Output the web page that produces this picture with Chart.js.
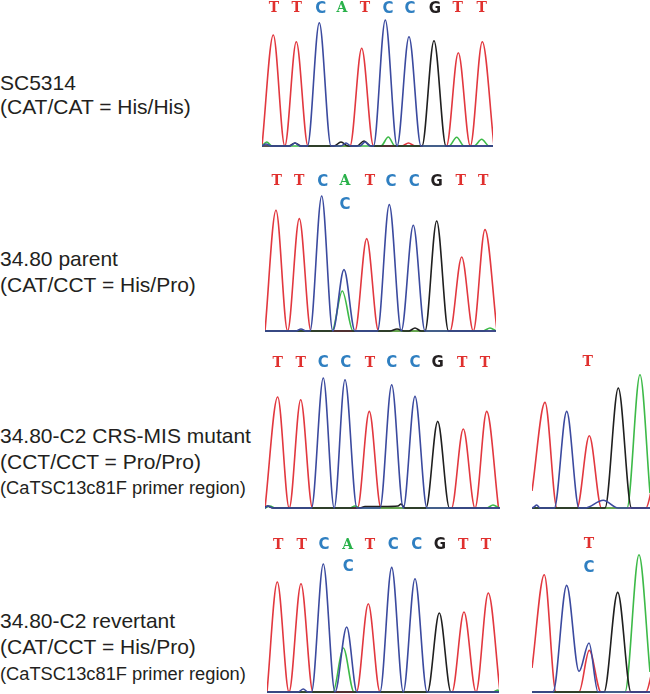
<!DOCTYPE html>
<html>
<head>
<meta charset="utf-8">
<script src="https://cdn.jsdelivr.net/npm/chart.js@4.4.1/dist/chart.umd.min.js"></script>
<style>
  html, body { margin: 0; padding: 0; background: #ffffff; }
  #wrap { position: relative; width: 650px; height: 694px; overflow: hidden; background: #fff; }
  canvas { position: absolute; }
  .lbl { position: absolute; left: 0; white-space: nowrap; color: #231f20;
         font-family: "Liberation Sans", Arial, sans-serif; line-height: 1; }
  .big { font-size: 21px; }
  .small { font-size: 18.3px; }
</style>
</head>
<body>
<div id="wrap">
  <div class="lbl big"   style="top:71.5px">SC5314</div>
  <div class="lbl big"   style="top:96px">(CAT/CAT = His/His)</div>
  <div class="lbl big"   style="top:248px">34.80 parent</div>
  <div class="lbl big"   style="top:273.5px">(CAT/CCT = His/Pro)</div>
  <div class="lbl big"   style="top:425px">34.80-C2 CRS-MIS mutant</div>
  <div class="lbl big"   style="top:450.5px">(CCT/CCT = Pro/Pro)</div>
  <div class="lbl small" style="top:478.5px">(CaTSC13c81F primer region)</div>
  <div class="lbl big"   style="top:609.5px">34.80-C2 revertant</div>
  <div class="lbl big"   style="top:635.5px">(CAT/CCT = His/Pro)</div>
  <div class="lbl small" style="top:664.5px">(CaTSC13c81F primer region)</div>

  <canvas id="p1"></canvas>
  <canvas id="p2"></canvas>
  <canvas id="p3"></canvas>
  <canvas id="p3r"></canvas>
  <canvas id="p4"></canvas>
  <canvas id="p4r"></canvas>
</div>
<script>
// ---------------- DATA (trace key points: [scan position, signal]) ----------------
// Panel 1: SC5314
const p1Red   = [[0,0],[11.3,111],[22.8,0],[34.3,104.3],[46,0],[88,0],[99.7,97.7],[111.5,0],[140,0],[146.5,3],[153,0],[184.5,0],[196.3,93.3],[208.3,0],[220.3,104.3],[232,0]];
const p1Blue  = [[0,0],[4,2],[9,0],[28,0],[33,3],[38,0],[45.5,0],[57.3,123.3],[69,0],[79,0],[84,3],[89,0],[98,0],[103,4],[108,0],[111.5,0],[123.3,126],[135.1,0],[147,109.3],[159,0],[231,0]];
const p1Black = [[0,0],[27,0],[33,3],[39,0],[72,0],[79,4],[86,0],[95,0],[102,5],[109,0],[160,0],[172,105.3],[184,0],[231,0]];
const p1Green = [[0,0],[4.7,4],[10,0],[119,0],[126.3,9],[133,0],[187,0],[194.7,8.7],[202,0],[212,0],[219.7,6.7],[227,0],[231,0]];
const p1Calls  = ['T','T','C','A','T','C','C','G','T','T'];
const p1CallX  = [12,34.7,58.7,80,103,126,148,173,195.7,219.7];

// Panel 2: 34.80 parent
const p2Red   = [[0,0],[11,120.7],[22.6,0],[34.3,112.4],[46,0],[90,0],[101.7,92.4],[113.5,0],[185,0],[196.7,74],[208.3,0],[220,101.4],[232,0]];
const p2Blue  = [[0,0],[31,0],[36,2],[41,0],[45,0],[56.7,135],[67.8,0],[79,61.4],[90,0],[112.5,0],[124.3,126.4],[136.3,0],[148.3,105.7],[160,0],[231,0]];
const p2Green = [[0,0],[67,0],[77.3,40],[88,0],[218,0],[225,3],[231,0]];
const p2Black = [[0,0],[125,0],[132,2],[139,0],[144,0],[150,3],[156,0],[160,0],[171.7,110],[183.5,0],[231,0]];
const p2Calls  = ['T','T','C','A','T','C','C','G','T','T'];
const p2CallX  = [11.7,34.3,57.7,80,105,126,149.3,171.7,195.7,218.3];
const p2Calls2 = ['C'];
const p2Call2X = [80];

// Panel 3: 34.80-C2 CRS-MIS mutant
const p3Red   = [[0,0],[12.7,111],[24.2,0],[35.7,108.3],[47.5,0],[92.5,0],[104.3,96.6],[116,0],[186.5,0],[198.3,79],[210,0],[221.7,96.6],[233.5,0]];
const p3Blue  = [[0,0],[3,2],[8,0],[46.5,0],[58.3,130],[69.2,0],[80,128.3],[92,0],[115,0],[126.7,123.3],[138.3,0],[150,111.6],[162,0],[235,0]];
const p3Black = [[0,0],[2,2],[8,0],[95,0],[100,1.5],[118,1.5],[133,2],[136,4],[140,0],[161,0],[172.7,86.6],[184.5,0],[235,0]];
const p3Green = [[0,0],[5,2],[10,0],[85,0],[90,2],[95,0],[222,0],[228,3],[234,0]];
const p3Calls  = ['T','T','C','C','T','C','C','G','T','T'];
const p3CallX  = [12.7,35.7,58.3,80.7,105,126.7,150,172.7,197.3,220];

// Panel 3 (primer region)
const p3rRed   = [[0,17],[13,105.6],[25,0],[45,0],[57.3,72.3],[69.5,0],[114,0],[120,20]];
const p3rBlue  = [[0,0],[2,1],[4.7,3],[8,0],[22.3,0],[34.7,96.6],[47,0],[53,0],[71.3,7.7],[86,0],[118,0]];
const p3rBlack = [[0,0],[73,0],[86.3,120],[99.5,0],[118,0]];
const p3rGreen = [[0,0],[95,0],[108,133.3],[118,15]];
const p3rCalls = ['T'];
const p3rCallX = [55.7];

// Panel 4: 34.80-C2 revertant
const p4Red   = [[0,0],[10.3,110],[22,0],[34,108.3],[46,0],[89.5,0],[101.3,88.3],[113,0],[185,0],[197,80],[209,0],[221.3,99],[233,0]];
const p4Blue  = [[0,0],[31,0],[36.3,3],[41,0],[44.5,0],[56.3,128],[68,0],[79.7,65],[90,0],[113,0],[124.7,124.6],[136.3,0],[148,113.3],[160,0],[232,0]];
const p4Green = [[0,0],[66,0],[76.3,44],[87,0],[226,0],[231,2],[232,0]];
const p4Black = [[0,0],[160.5,0],[172.3,79],[184,0],[232,0]];
const p4Calls  = ['T','T','C','A','T','C','C','G','T','T'];
const p4CallX  = [11.3,34.7,57,80.7,103,126.3,149.7,173,196.3,219];
const p4Calls2 = ['C'];
const p4Call2X = [81.3];

// Panel 4 (primer region)
const p4rRed   = [[0,24],[12.3,117.3],[24,0],[47,0],[57.3,41.6],[69,0],[114,0],[120,20]];
const p4rBlue  = [[0,0],[21,0],[34.7,106.6],[47,20.6],[57,49],[66,0],[118,0]];
const p4rBlack = [[0,0],[72,0],[85.7,99.6],[99,0],[118,0]];
const p4rGreen = [[0,0],[93,0],[107,137.3],[118,20]];
const p4rCalls  = ['T'];
const p4rCallX  = [57];
const p4rCalls2 = ['C'];
const p4rCall2X = [57];

// ---------------- STYLE ----------------
const TRACE = { red: '#e2383f', blue: '#3b4a9f', green: '#3dba48', black: '#1f1f1f' };
const CALL  = { T: '#e0302e', C: '#2f7fc1', A: '#29b14a', G: '#231f20' };

const baseCalls = {
  id: 'baseCalls',
  afterDatasetsDraw(chart, args, opts) {
    const ctx = chart.ctx, xs = chart.scales.x;
    ctx.save();
    ctx.textAlign = 'center';
    ctx.textBaseline = 'middle';
    (opts.rows || []).forEach(row => {
      row.letters.forEach((ch, i) => {
        ctx.font = (ch === 'T' || ch === 'A')
          ? 'bold 14px "DejaVu Serif", serif'
          : 'bold 15px "DejaVu Sans", sans-serif';
        ctx.fillStyle = CALL[ch];
        ctx.fillText(ch, xs.getPixelForValue(row.x[i]), row.y);
      });
    });
    ctx.restore();
  }
};

function toPts(arr) { return arr.map(p => ({ x: p[0], y: p[1] })); }

function makePanel(id, box, traces, rows) {
  const cv = document.getElementById(id);
  cv.width = box.w; cv.height = box.h;
  cv.style.left = box.left + 'px'; cv.style.top = box.top + 'px';
  cv.style.width = box.w + 'px'; cv.style.height = box.h + 'px';
  const padTop = box.padTop, padBottom = box.padBottom;
  const yMax = box.h - padTop - padBottom;
  const ds = [
    { data: toPts(traces.blue),  borderColor: TRACE.blue },
    { data: toPts(traces.black), borderColor: TRACE.black },
    { data: toPts(traces.green), borderColor: TRACE.green },
    { data: toPts(traces.red),   borderColor: TRACE.red }
  ].map(d => Object.assign(d, {
    borderWidth: 1.6, pointRadius: 0, fill: false,
    cubicInterpolationMode: 'monotone', clip: { left: 0, right: 0, top: 20, bottom: 2 }
  }));
  return new Chart(cv, {
    type: 'line',
    data: { datasets: ds },
    options: {
      responsive: false, animation: false, devicePixelRatio: 1,
      layout: { padding: { top: padTop, bottom: padBottom, left: 0, right: 0 } },
      plugins: { legend: { display: false }, tooltip: { enabled: false }, baseCalls: { rows } },
      scales: {
        x: { type: 'linear', min: 0, max: box.w, display: false },
        y: { type: 'linear', min: 0, max: yMax, display: false }
      }
    },
    plugins: [baseCalls]
  });
}

makePanel('p1', { left: 262, top: 0, w: 231, h: 148, padTop: 18, padBottom: 2 },
  { red: p1Red, blue: p1Blue, green: p1Green, black: p1Black },
  [{ letters: p1Calls, x: p1CallX, y: 8.7 }]);

makePanel('p2', { left: 265, top: 172, w: 231, h: 161, padTop: 20, padBottom: 2 },
  { red: p2Red, blue: p2Blue, green: p2Green, black: p2Black },
  [{ letters: p2Calls, x: p2CallX, y: 9.7 }, { letters: p2Calls2, x: p2Call2X, y: 33 }]);

makePanel('p3', { left: 265, top: 350, w: 235, h: 160, padTop: 20, padBottom: 2 },
  { red: p3Red, blue: p3Blue, green: p3Green, black: p3Black },
  [{ letters: p3Calls, x: p3CallX, y: 13.3 }]);

makePanel('p3r', { left: 532, top: 350, w: 118, h: 160, padTop: 20, padBottom: 2 },
  { red: p3rRed, blue: p3rBlue, green: p3rGreen, black: p3rBlack },
  [{ letters: p3rCalls, x: p3rCallX, y: 12.7 }]);

makePanel('p4', { left: 267, top: 535, w: 232, h: 159, padTop: 20, padBottom: 2 },
  { red: p4Red, blue: p4Blue, green: p4Green, black: p4Black },
  [{ letters: p4Calls, x: p4CallX, y: 10 }, { letters: p4Calls2, x: p4Call2X, y: 31.7 }]);

makePanel('p4r', { left: 532, top: 535, w: 118, h: 159, padTop: 20, padBottom: 2 },
  { red: p4rRed, blue: p4rBlue, green: p4rGreen, black: p4rBlack },
  [{ letters: p4rCalls, x: p4rCallX, y: 9.3 }, { letters: p4rCalls2, x: p4rCall2X, y: 32.7 }]);
</script>
</body>
</html>
